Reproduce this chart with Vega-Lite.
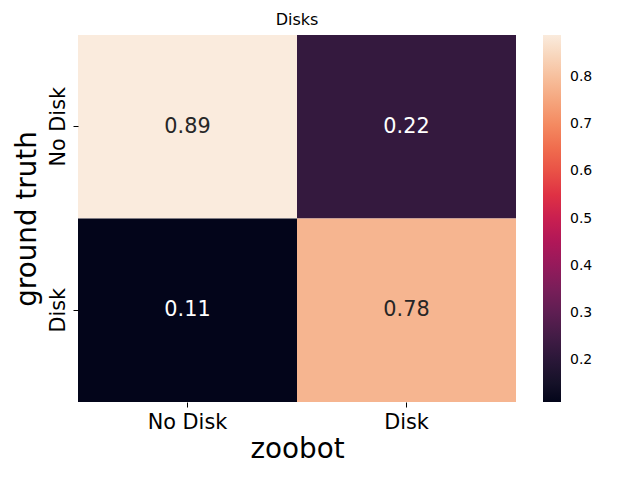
{
  "$schema": "https://vega.github.io/schema/vega-lite/v6.json",
  "autosize": {"type": "none"},
  "padding": {"left": 78, "top": 35, "right": 124, "bottom": 78},
  "width": 438,
  "height": 367,
  "title": {"text": "Disks", "fontSize": 16, "fontWeight": "normal", "font": "DejaVu Sans", "color": "black", "offset": 7, "frame": "group", "anchor": "middle"},
  "config": {"view": {"stroke": null}, "font": "DejaVu Sans",
    "title": {"fontSize": 16, "fontWeight": "normal", "color": "black"},
    "legend": {"labelFontSize": 14, "labelColor": "black"}},
  "data": {"values": [
    {"truth": "No Disk", "pred": "No Disk", "value": 0.89},
    {"truth": "No Disk", "pred": "Disk", "value": 0.22},
    {"truth": "Disk", "pred": "No Disk", "value": 0.11},
    {"truth": "Disk", "pred": "Disk", "value": 0.78}
  ]},
  "encoding": {
    "x": {"field": "pred", "type": "nominal", "sort": ["No Disk", "Disk"],
      "scale": {"paddingInner": 0, "paddingOuter": 0},
      "axis": {"title": "zoobot", "titleFontSize": 27.8, "titleFontWeight": "normal", "titleColor": "black", "labelFontSize": 20.8, "labelColor": "black", "labelAngle": 0, "domain": false, "tickColor": "black", "tickSize": 5, "labelPadding": 5, "titlePadding": 4}},
    "y": {"field": "truth", "type": "nominal", "sort": ["No Disk", "Disk"],
      "scale": {"paddingInner": 0, "paddingOuter": 0},
      "axis": {"title": "ground truth", "titleFontSize": 27.8, "titleFontWeight": "normal", "titleColor": "black", "labelFontSize": 20.8, "labelColor": "black", "labelAngle": 270, "labelAlign": "center", "labelBaseline": "bottom", "domain": false, "tickColor": "black", "tickSize": 5, "labelPadding": 5, "titlePadding": 6}}
  },
  "layer": [
    {"mark": {"type": "rect"},
     "encoding": {"color": {"field": "value", "type": "quantitative",
       "scale": {"domain": [0.11, 0.89], "range": ["#03051a", "#35193e", "#701f57", "#ad1759", "#e13342", "#f37651", "#f6b48f", "#faebdd"]},
       "legend": {"title": null, "orient": "right", "offset": 27, "padding": 0, "gradientLength": 367, "gradientThickness": 18, "gradientStrokeWidth": 0, "values": [0.2, 0.3, 0.4, 0.5, 0.6, 0.7, 0.8], "format": ".1f", "labelFontSize": 14, "labelColor": "black", "labelOffset": 9}}}},
    {"mark": {"type": "text", "fontSize": 20.8},
     "encoding": {"text": {"field": "value", "type": "quantitative", "format": ".2f"},
       "color": {"condition": {"test": "datum.value > 0.5", "value": "#262626"}, "value": "white"}}}
  ]
}
